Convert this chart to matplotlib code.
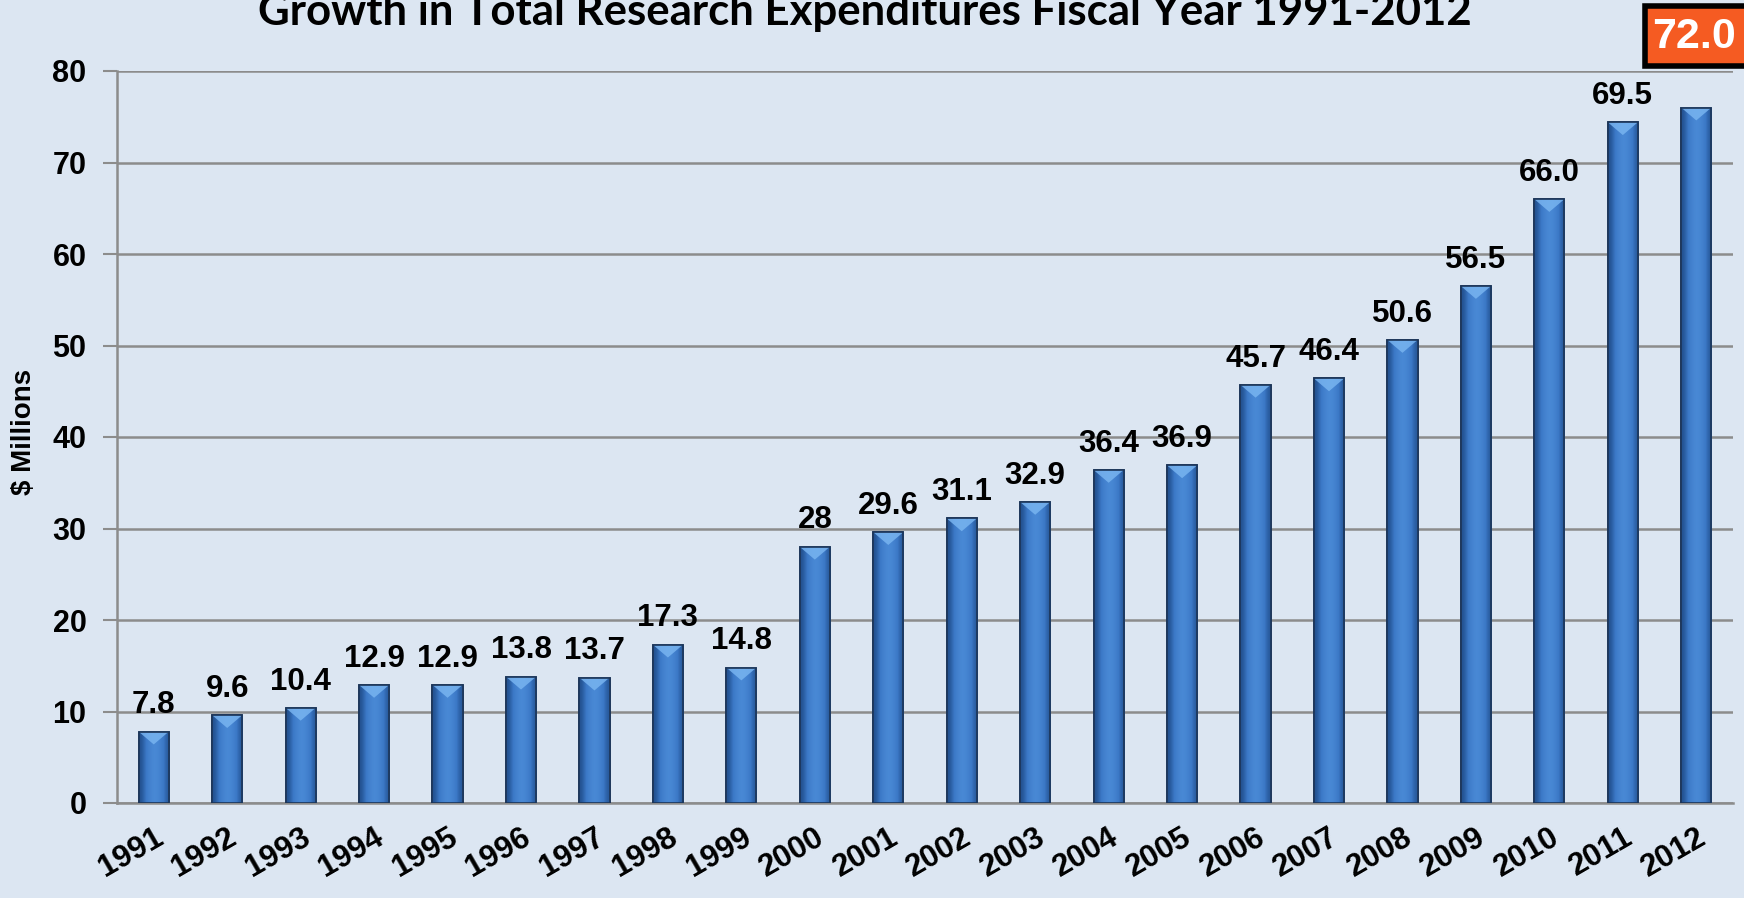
import matplotlib
matplotlib.use("Agg")
import matplotlib.pyplot as plt
import numpy as np
from matplotlib.patches import Polygon, Rectangle

years = [str(y) for y in range(1991, 2013)]
# bar heights as drawn (the last two bars sit above their printed labels)
heights = [7.8, 9.6, 10.4, 12.9, 12.9, 13.8, 13.7, 17.3, 14.8, 28.0, 29.6,
           31.1, 32.9, 36.4, 36.9, 45.7, 46.4, 50.6, 56.5, 66.0, 74.4, 76.0]
labels = ["7.8", "9.6", "10.4", "12.9", "12.9", "13.8", "13.7", "17.3", "14.8",
          "28", "29.6", "31.1", "32.9", "36.4", "36.9", "45.7", "46.4", "50.6",
          "56.5", "66.0", "69.5", ""]
callout = "72.0"
yticks = [0, 10, 20, 30, 40, 50, 60, 70, 80]

BG = "#dce6f2"
GRID = "#8c8c8c"

plt.rcParams.update({
    "font.family": ["Liberation Sans", "DejaVu Sans"],
    "font.weight": "bold",
})

fig = plt.figure(figsize=(17.44, 8.98), dpi=100, facecolor=BG)
ax = fig.add_axes([117 / 1744, 1 - 803 / 898, (1733 - 117) / 1744, (803 - 71) / 898])
ax.set_facecolor(BG)

x = np.arange(len(years))
bars = ax.bar(x, heights, width=0.41, color="#3b78c6", edgecolor="#1c3558",
              linewidth=1.2, zorder=3)

# horizontal shading inside each bar, plus the light bevel at the top
grad = np.array([[0.0, 0.45, 0.8, 1.0, 0.85, 0.55, 0.1]])
cmap = matplotlib.colors.LinearSegmentedColormap.from_list(
    "barshade", ["#22508f", "#3b78c6", "#4a8ad6"])
for b in bars:
    x0, w, h = b.get_x(), b.get_width(), b.get_height()
    im = ax.imshow(grad, cmap=cmap, aspect="auto", extent=(x0, x0 + w, 0, h),
                   zorder=3.5, interpolation="bicubic")
    im.set_clip_path(b)
    bev = 1.4
    ax.add_patch(Polygon([(x0, h), (x0 + w, h), (x0 + w / 2, h - bev)],
                         closed=True, facecolor="#78b4f0", edgecolor="none",
                         alpha=0.85, zorder=4))
    ax.add_patch(Rectangle((x0, 0), w, h, fill=False, edgecolor="#1c3558",
                           linewidth=1.2, zorder=4.5))

for xi, h, lab in zip(x, heights, labels):
    if lab:
        ax.text(xi, h + 2.0, lab, ha="center", va="baseline", fontsize=22.5,
                fontweight="bold", color="black", zorder=5)

ax.set_xlim(-0.5, len(years) - 0.5)
ax.set_ylim(0, 80)
ax.set_yticks(yticks)
ax.set_yticklabels([str(t) for t in yticks], fontsize=22, fontweight="bold")
ax.set_xticks(x)
ax.set_xticklabels(years, rotation=30, ha="right", rotation_mode="anchor",
                   fontsize=22.5, fontweight="bold")
ax.tick_params(axis="y", length=10, width=1.5, color=GRID, pad=12)
ax.tick_params(axis="x", length=0, pad=14)
ax.yaxis.grid(True, color=GRID, linewidth=1.8, zorder=0)
ax.set_axisbelow(True)
for side in ["top", "right"]:
    ax.spines[side].set_visible(False)
for side in ["left", "bottom"]:
    ax.spines[side].set_color(GRID)
    ax.spines[side].set_linewidth(1.8)

fig.text(24 / 1744, 1 - 432 / 898, "\\$ Millions", rotation=90, ha="center",
         va="center", fontsize=20, fontweight="bold")

fig.text(865 / 1744, 1 - 25 / 898, "Growth in Total Research Expenditures Fiscal Year 1991-2012",
         ha="center", va="baseline", fontsize=31.5, fontweight="bold",
         family=["Lato", "DejaVu Sans"])

# highlighted value box in the top-right corner
fig.patches.append(Rectangle((1645 / 1744, 1 - 66 / 898), 120 / 1744, 60 / 898,
                             transform=fig.transFigure, facecolor="#f55b22",
                             edgecolor="black", linewidth=4, zorder=10))
fig.text(1694 / 1744, 1 - 37 / 898, callout, ha="center", va="center",
         fontsize=31, fontweight="bold", color="white", zorder=11)

fig.savefig("out.png", dpi=100, facecolor=BG)
